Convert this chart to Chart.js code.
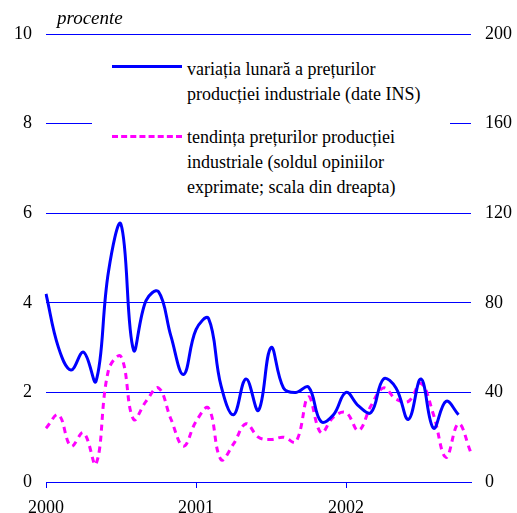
<!DOCTYPE html>
<html>
<head>
<meta charset="utf-8">
<script src="https://cdn.jsdelivr.net/npm/chart.js@4.4.0/dist/chart.umd.min.js"></script>
<style>
  body { margin: 0; background: #fff; }
  #cutie { position: relative; width: 517px; height: 513px; overflow: hidden; }
  #grafic { position: absolute; left: 0; top: 0; }
  .text { position: absolute; font-family: "Liberation Serif", "DejaVu Serif", "Times New Roman", Times, serif; color: #000; }
  #procente { left: 57px; top: 7px; font-size: 19px; font-style: italic; }
  #legenda { left: 92px; top: 50px; width: 358px; height: 152px; background: #fff; }
  .rand { position: absolute; left: 95px; font-size: 18px; line-height: 25px; white-space: nowrap; }
  .mostra { position: absolute; left: 20px; width: 70px; height: 0; }
</style>
</head>
<body>
<div id="cutie">
  <canvas id="grafic" width="517" height="513"></canvas>
  <div class="text" id="procente">procente</div>
  <div class="text" id="legenda">
    <div class="mostra" style="top:15px;border-top:3px solid #0000ff"></div>
    <div class="rand" style="top:7px">variația lunară a prețurilor<br>producției industriale (date INS)</div>
    <div class="mostra" style="top:85px;border-top:3px dashed #ff00ff"></div>
    <div class="rand" style="top:75px">tendința prețurilor producției<br>industriale (soldul opiniilor<br>exprimate; scala din dreapta)</div>
  </div>
</div>
<script>
// luni: ianuarie 2000 ... noiembrie 2002
var luni = [];
for (var a = 2000; a <= 2002; a++) {
    for (var l = 1; l <= 12; l++) {
        if (luni.length < 35) luni.push(a + '-' + (l < 10 ? '0' + l : l));
    }
}

// variatia lunara a preturilor productiei industriale (procente, scala stanga)
var variatiaLunara = [4.2, 3.0, 2.5, 2.9, 2.25, 4.7, 5.75, 2.95, 4.05, 4.25, 3.25, 2.4,
    3.4, 3.65, 2.15, 1.5, 2.3, 1.6, 3.0, 2.1, 2.0, 2.12, 1.35, 1.5,
    2.0, 1.7, 1.55, 2.3, 2.1, 1.4, 2.3, 1.2, 1.8, 1.5, null];

// tendinta preturilor (sold conjunctural, scala dreapta)
var tendinta = [24, 30, 16, 22, 8, 50, 56, 28, 36, 42, 28, 16,
    27, 33, 10, 17, 26, 20, 19, 20, 18, 38, 22, 29,
    31, 23, 34, 42, 37, 36, 44, 30, 11, 26, 13];

var albastru = '#0000ff';
var font = { family: '"Liberation Serif", "DejaVu Serif", "Times New Roman", Times, serif', size: 18 };

var ctx = document.getElementById('grafic').getContext('2d');
var grafic = new Chart(ctx, {
    type: 'line',
    data: {
        labels: luni,
        datasets: [{
            label: 'variația lunară a prețurilor producției industriale (date INS)',
            data: variatiaLunara,
            borderColor: albastru,
            borderWidth: 3,
            pointRadius: 0,
            tension: 0.4,
            yAxisID: 'y'
        }, {
            label: 'tendința prețurilor producției industriale (soldul opiniilor exprimate; scala din dreapta)',
            data: tendinta,
            borderColor: '#ff00ff',
            borderWidth: 3,
            borderDash: [6, 5],
            pointRadius: 0,
            tension: 0.4,
            yAxisID: 'y2'
        }]
    },
    options: {
        responsive: false,
        animation: false,
        layout: { padding: { top: 34, left: 0, right: 0, bottom: 0 } },
        plugins: { legend: { display: false }, tooltip: { enabled: false } },
        scales: {
            x: {
                offset: false,
                afterFit: function (s) { s.height = 31; },
                border: { display: true, color: albastru, width: 1 },
                grid: {
                    drawOnChartArea: false,
                    drawTicks: true,
                    tickLength: 6,
                    color: function (c) { return c.index % 12 === 0 ? albastru : 'rgba(0,0,0,0)'; }
                },
                ticks: {
                    autoSkip: false,
                    maxRotation: 0,
                    padding: 9,
                    color: '#000',
                    font: font,
                    callback: function (v, i) { return i % 12 === 0 ? luni[i].slice(0, 4) : ''; }
                }
            },
            y: {
                position: 'left',
                min: 0, max: 10,
                afterFit: function (s) { s.width = 46; },
                border: { display: false },
                grid: { color: albastru, lineWidth: 1, drawTicks: false },
                ticks: { stepSize: 2, padding: 14, color: '#000', font: font }
            },
            y2: {
                position: 'right',
                min: 0, max: 200,
                afterFit: function (s) { s.width = 46; },
                border: { display: false },
                grid: { display: false, drawTicks: false },
                ticks: { stepSize: 40, padding: 14, color: '#000', font: font }
            }
        }
    }
});
</script>
</body>
</html>
